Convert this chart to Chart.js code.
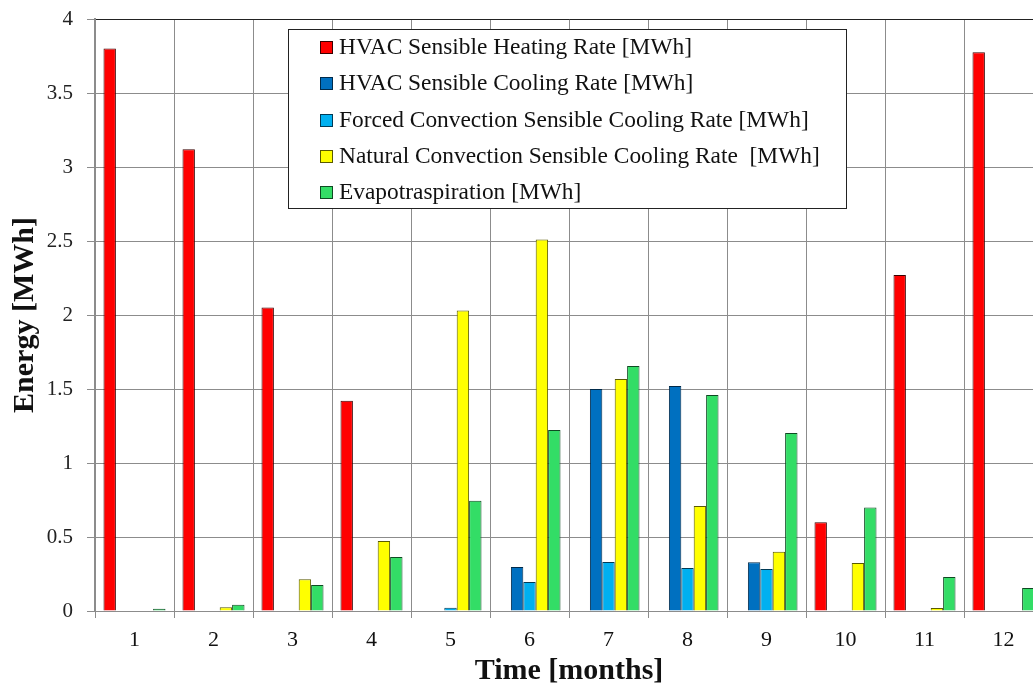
<!DOCTYPE html>
<html>
<head>
<meta charset="utf-8">
<script src="https://cdn.jsdelivr.net/npm/chart.js@4.4.1/dist/chart.umd.min.js"></script>
<style>
  html, body { margin: 0; padding: 0; background: #fff; overflow: hidden; width: 1033px; height: 689px; }
  #wrap { position: absolute; left: 0; top: 0; width: 1046px; height: 689px; }
  #legend { position: absolute; left: 288px; top: 29px; width: 557px; height: 178px; border: 1px solid #222; background: #fff;
    font-family: "Liberation Serif", "DejaVu Serif", serif; font-size: 23.4px; color: #111; }
  .item { position: absolute; left: 31px; height: 36px; line-height: 36px; white-space: pre; }
  .sw { display: inline-block; width: 11px; height: 11px; border: 1px solid #222; margin-right: 6px; vertical-align: 0px; }
</style>
</head>
<body>
<div id="wrap"><canvas id="c"></canvas></div>
<div id="legend"></div>
<script>
const months = ["1","2","3","4","5","6","7","8","9","10","11","12"];
const seriesNames = [
  "HVAC Sensible Heating Rate [MWh]",
  "HVAC Sensible Cooling Rate [MWh]",
  "Forced Convection Sensible Cooling Rate [MWh]",
  "Natural Convection Sensible Cooling Rate  [MWh]",
  "Evapotraspiration [MWh]"
];
const heating = [3.80, 3.12, 2.05, 1.42, 0, 0, 0, 0, 0, 0.60, 2.27, 3.775];
const cooling = [0, 0, 0, 0, 0, 0.297, 1.50, 1.52, 0.33, 0, 0, 0];
const forced  = [0, 0, 0, 0, 0.022, 0.196, 0.331, 0.29, 0.284, 0.005, 0, 0];
const natural = [0.003, 0.025, 0.214, 0.473, 2.03, 2.51, 1.568, 0.71, 0.40, 0.324, 0.02, 0];
const evapo   = [0.015, 0.043, 0.176, 0.365, 0.745, 1.223, 1.655, 1.46, 1.203, 0.70, 0.23, 0.155];
const yTicks  = [0, 0.5, 1, 1.5, 2, 2.5, 3, 3.5, 4];
const yTickLabels = ["0", "0.5", "1", "1.5", "2", "2.5", "3", "3.5", "4"];

const fills   = ["#FF0000", "#0070C0", "#00B0F0", "#FFFF00", "#33DD66"];
const borders = ["#3a0000", "#002a4a", "#003a55", "#5a5a00", "#0e4a22"];
const seriesData = [heating, cooling, forced, natural, evapo];

const serif = '"Liberation Serif", "DejaVu Serif", serif';

const datasets = seriesData.map((d, i) => ({
  label: seriesNames[i],
  data: d,
  backgroundColor: fills[i],
  borderColor: borders[i],
  borderWidth: 1,
  borderSkipped: 'bottom',
  categoryPercentage: 0.785,
  barPercentage: 1.0
}));

new Chart(document.getElementById('c'), {
  type: 'bar',
  data: { labels: months, datasets },
  options: {
    responsive: true,
    maintainAspectRatio: false,
    animation: false,
    layout: { padding: { left: 0, right: 3, top: 19, bottom: 0 } },
    plugins: { legend: { display: false }, tooltip: { enabled: false } },
    scales: {
      x: {
        grid: { color: '#8c8c8c', lineWidth: 1, offset: true, drawTicks: true, tickLength: 7, tickColor: '#8c8c8c' },
        border: { color: '#8c8c8c', width: 1 },
        ticks: { color: '#111', font: { family: serif, size: 22 }, padding: 9, maxRotation: 0 },
        title: { display: true, text: 'Time [months]', color: '#111', font: { family: serif, size: 30, weight: 'bold' }, padding: { top: 0, bottom: 0 } },
        afterFit: (s) => { s.height = 78; }
      },
      y: {
        min: 0, max: 4,
        afterBuildTicks: (s) => { s.ticks = yTicks.map(v => ({ value: v })); },
        grid: {
          color: (ctx) => (ctx.tick && ctx.tick.value === 4) ? '#222' : '#8c8c8c',
          lineWidth: 1, drawTicks: true, tickLength: 8, tickColor: '#8c8c8c'
        },
        border: { color: '#8c8c8c', width: 2 },
        ticks: {
          color: '#222', font: { family: serif, size: 21, lineHeight: 0.4 }, padding: 14,
          callback: (v) => { const k = yTicks.indexOf(v); return k >= 0 ? yTickLabels[k] : ''; }
        },
        title: { display: true, text: 'Energy [MWh]', color: '#111', font: { family: serif, size: 30, weight: 'bold' }, padding: { top: 7, bottom: 0 } },
        afterFit: (s) => { s.width = 95; }
      }
    }
  }
});

const lg = document.getElementById('legend');
seriesNames.forEach((name, i) => {
  const row = document.createElement('div');
  row.className = 'item';
  row.style.top = (-2 + i * 36.3) + 'px';
  const sw = document.createElement('span');
  sw.className = 'sw';
  sw.style.background = fills[i];
  sw.style.borderColor = borders[i];
  row.appendChild(sw);
  row.appendChild(document.createTextNode(name));
  lg.appendChild(row);
});
</script>
</body>
</html>
